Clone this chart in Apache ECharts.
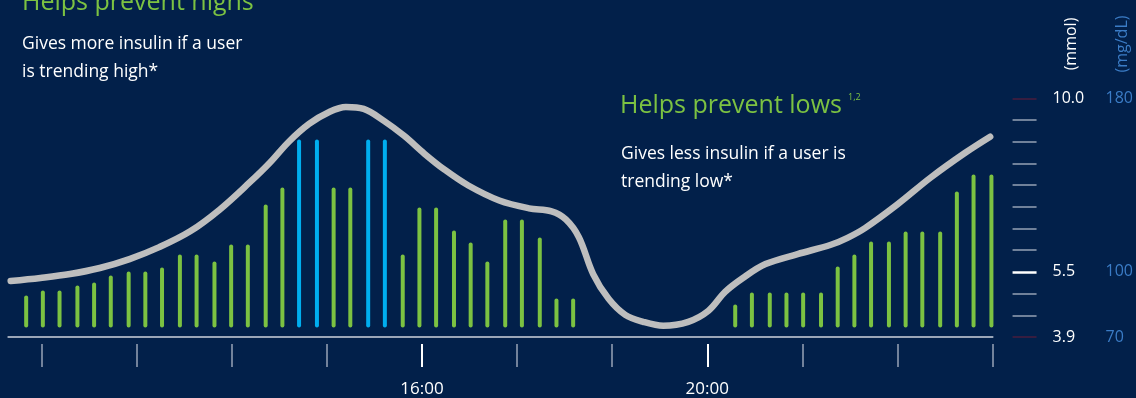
<!DOCTYPE html>
<html><head><meta charset="utf-8">
<script src="https://cdn.jsdelivr.net/npm/echarts@6/dist/echarts.min.js"></script>
<style>html,body{margin:0;padding:0;background:#02204a;}#c{width:1136px;height:398px;}</style>
</head><body><div id="c"></div>
<script>
// ---- data ----
// insulin delivery times (minutes since midnight) and relative amounts
const barTimes = [627,641,655,670,684,698,713,727,741,756,770,785,799,813,828,842,856,871,885,899,914,928,943,957,971,986,1000,1014,1029,1043,1058,1072,1086,
                  1222,1236,1251,1265,1279,1294,1308,1322,1336,1351,1365,1379,1394,1408,1422,1437];
const barUnits = [0.32,0.37,0.37,0.42,0.45,0.52,0.56,0.56,0.60,0.73,0.73,0.66,0.83,0.83,1.23,1.40,1.88,1.88,1.40,1.40,1.88,1.88,0.73,1.20,1.20,0.97,0.85,0.66,1.08,1.08,0.90,0.29,0.29,
                  0.23,0.35,0.35,0.35,0.35,0.35,0.61,0.73,0.86,0.86,0.96,0.96,0.96,1.36,1.53,1.53];
const barKind  = ['b','b','b','b','b','b','b','b','b','b','b','b','b','b','b','b','c','c','b','b','c','c','b','b','b','b','b','b','b','b','b','b','b',
                  'b','b','b','b','b','b','b','b','b','b','b','b','b','b','b','b'];
// glucose trace (minutes, mg/dL)
const glucoseTimes = [614,639,664,689,714,739,765,790,815,832,848,865,882,896,911,928,945,962,979,999,1025,1050,1069,1081,1092,1104,1117,1131,1146,1163,1184,1201,1215,1230,1249,1276,1304,1318,1333,1360,1388,1417,1438];
const glucoseMg    = [95.8,97.2,99.0,101.8,105.9,111.4,118.7,128.8,141.2,150.3,160.0,168.2,173.7,176.0,175.1,169.6,162.7,154.5,147.1,139.8,132.9,129.3,127.9,124.2,116.0,99.0,87.6,80.2,77.0,75.2,77.0,82.1,90.8,97.2,103.6,108.2,112.5,115.7,120.3,131.1,143.5,154.9,162.3];
// axis ticks / labels
const timeTicks = [640,720,800,880,960,1040,1120,1200,1280,1360,1440];
const timeLabelValues = [960,1200];
const timeLabels = {960:'16:00',1200:'20:00'};
const mgTicksMinor = [80,90,110,120,130,140,150,160,170];
const mgTickTarget = [100];
const mgTickLimits = [70,180];
const mgLabels = {70:'70',100:'100',180:'180'};
const mmolLabels = {70:'3.9',100:'5.5',180:'10.0'};

// ---- chart ----
const GREEN='#7cc242', BLUE='#00aeef', BG='#02204a';
const FONT='Open Sans';
const chart = echarts.init(document.getElementById('c'), null, {renderer:'canvas'});
const grid0 = {left:8.3, right:141, top:98.3, bottom:59.7};
const grid1 = {left:8.3, right:141, top:127.5, bottom:70.5};
const xBase = {type:'value', position:'bottom', min:612, max:1440, splitLine:{show:false}, axisLabel:{show:false}, axisTick:{show:false}, axisLine:{show:false}};
const yBase = {type:'value', min:70, max:180, interval:10, position:'right', offset:20, splitLine:{show:false}, axisLine:{show:false}, axisLabel:{show:false}, axisTick:{show:false}};

chart.setOption({
  backgroundColor: BG,
  animation:false,
  textStyle:{fontFamily:FONT},
  grid:[Object.assign({},grid0), Object.assign({},grid1)],
  xAxis:[
    Object.assign({}, xBase, {gridIndex:0, axisLine:{show:true, lineStyle:{color:'#9ba6b8', width:2}}}),
    Object.assign({}, xBase, {gridIndex:0, offset:7, axisTick:{show:true, length:23, customValues:timeTicks, lineStyle:{color:'#98a3b6', width:1.5}}}),
    Object.assign({}, xBase, {gridIndex:0, offset:7, axisTick:{show:true, length:23, customValues:timeLabelValues, lineStyle:{color:'#ffffff', width:2}},
      axisLabel:{show:true, customValues:timeLabelValues, margin:37, color:'#ffffff', fontSize:17, fontFamily:FONT, formatter:v=>timeLabels[v]||''}}),
    Object.assign({}, xBase, {gridIndex:1})
  ],
  yAxis:[
    Object.assign({}, yBase, {gridIndex:0, axisTick:{show:true, inside:false, length:24, customValues:mgTicksMinor, lineStyle:{color:'#95a1b5', width:1.5}}}),
    Object.assign({}, yBase, {gridIndex:0, axisTick:{show:true, length:24, customValues:mgTickTarget, lineStyle:{color:'#ffffff', width:2.5}},
      axisLabel:{show:true, customValues:[70,100,180], margin:40, color:'#ffffff', fontSize:16, fontFamily:FONT, formatter:v=>mmolLabels[v]||''}}),
    Object.assign({}, yBase, {gridIndex:0, axisTick:{show:true, length:24, customValues:mgTickLimits, lineStyle:{color:'#4a1c3e', width:1.5}},
      axisLabel:{show:true, customValues:[70,100,180], margin:93, color:'#3b7cc6', fontSize:16, fontFamily:FONT, formatter:v=>mgLabels[v]||''}}),
    {type:'value', gridIndex:1, min:0, max:2, show:false}
  ],
  series:[
    {type:'bar', xAxisIndex:3, yAxisIndex:3, barWidth:4, z:2,
     data: barTimes.map((t,i)=>({value:[t, barUnits[i]], itemStyle:{color: barKind[i]==='c'?BLUE:GREEN, borderRadius:2}}))},
    {type:'line', xAxisIndex:0, yAxisIndex:0, z:3, smooth:0.35, showSymbol:false, symbol:'none',
     lineStyle:{color:'#bebebe', width:6.5, cap:'round', join:'round'},
     data: glucoseTimes.map((t,i)=>[t, glucoseMg[i]])}
  ],
  graphic:[
    {type:'text', x:22, y:3, style:{text:'Helps prevent highs', fill:GREEN, font:'25px '+FONT, verticalAlign:'middle'}},
    {type:'text', x:262, y:-4, style:{text:'1,2', fill:GREEN, font:'9px '+FONT, verticalAlign:'middle'}},
    {type:'text', x:22, y:44, style:{text:'Gives more insulin if a user', fill:'#ffffff', font:'17.5px '+FONT, verticalAlign:'middle'}},
    {type:'text', x:22, y:72, style:{text:'is trending high*', fill:'#ffffff', font:'17.5px '+FONT, verticalAlign:'middle'}},
    {type:'text', x:620, y:106, style:{text:'Helps prevent lows', fill:GREEN, font:'25px '+FONT, verticalAlign:'middle'}},
    {type:'text', x:848, y:97, style:{text:'1,2', fill:GREEN, font:'9px '+FONT, verticalAlign:'middle'}},
    {type:'text', x:621, y:154, style:{text:'Gives less insulin if a user is', fill:'#ffffff', font:'17.5px '+FONT, verticalAlign:'middle'}},
    {type:'text', x:621, y:182, style:{text:'trending low*', fill:'#ffffff', font:'17.5px '+FONT, verticalAlign:'middle'}},
    {type:'text', x:1071, y:44, rotation:Math.PI/2, style:{text:'(mmol)', fill:'#ffffff', font:'16px '+FONT, align:'center', verticalAlign:'middle'}},
    {type:'text', x:1122, y:44, rotation:Math.PI/2, style:{text:'(mg/dL)', fill:'#3b7cc6', font:'16px '+FONT, align:'center', verticalAlign:'middle'}}
  ]
});
</script>
</body></html>
